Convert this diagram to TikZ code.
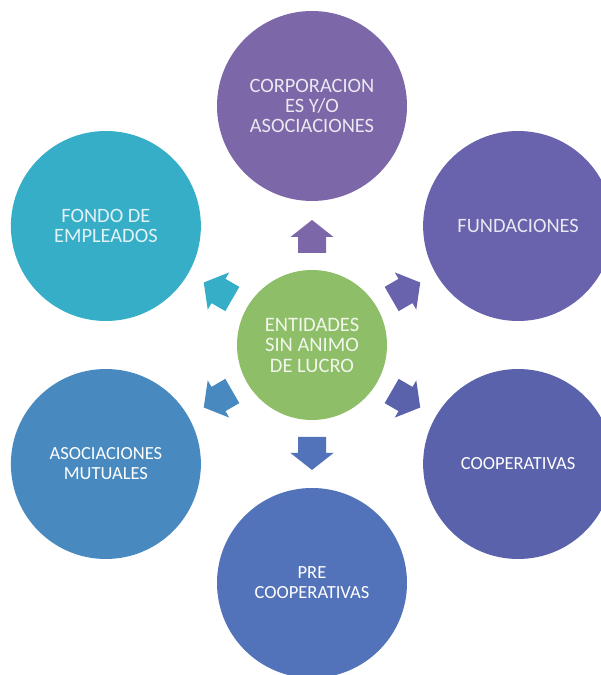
\documentclass[tikz,border=0pt]{standalone}
\usepackage{fontspec}
\setmainfont{Carlito}
\begin{document}
\begin{tikzpicture}[x=1pt, y=1pt,
    hubnode/.style={circle, fill=mygreen, minimum size=150pt, inner sep=0pt,
        text=white!88!mygreen, align=center, font=\fontsize{20.5}{20.5}\selectfont},
    leaf/.style={circle, minimum size=190pt, inner sep=0pt, align=center},
    thintxt/.style={font=\fontsize{20.4}{20.2}\selectfont},
    boldtxt/.style={font=\fontsize{18.5}{20}\selectfont, text=white}]
    \definecolor{mygreen}{RGB}{143,190,104}
    \definecolor{mycorp}{RGB}{124,103,168}
    \definecolor{myfund}{RGB}{104,99,172}
    \definecolor{mycoop}{RGB}{89,98,170}
    \definecolor{mypre}{RGB}{82,114,185}
    \definecolor{mymut}{RGB}{72,138,192}
    \definecolor{myfondo}{RGB}{55,174,200}

    \clip (0,0) rectangle (601,675);

    \node[hubnode] (hub) at (312,330) {ENTIDADES\\SIN ANIMO\\DE LUCRO};

    \node[leaf, thintxt, fill=mycorp, text=white!85!mycorp] (corp) at ([shift={(90:239)}]hub.center) {CORPORACION\\ES Y/O\\ASOCIACIONES};
    \node[leaf, thintxt, fill=myfund, text=white!85!myfund] (fund) at ([shift={(30:238)}]hub.center) {FUNDACIONES};
    \node[leaf, boldtxt, fill=mycoop] (coop) at ([shift={(-30:238)}]hub.center) {COOPERATIVAS};
    \node[leaf, boldtxt, fill=mypre] (pre) at ([shift={(-90:238)}]hub.center) {PRE\\COOPERATIVAS};
    \node[leaf, boldtxt, fill=mymut] (mut) at ([shift={(-150:238)}]hub.center) {ASOCIACIONES\\MUTUALES};
    \node[leaf, thintxt, fill=myfondo, text=white!85!myfondo] (fondo) at ([shift={(150:238)}]hub.center) {FONDO DE\\EMPLEADOS};

    % block arrows from the hub outwards
    \foreach \ang/\col in {90/mycorp, 30/myfund, -30/mycoop, -90/mypre, -150/mymut, 150/myfondo}
        \fill[\col, shift={(hub.center)}, rotate=\ang]
            (92,-14) -- (108,-14) -- (108,-21.5) -- (125,0) -- (108,21.5) -- (108,14) -- (92,14) -- cycle;
\end{tikzpicture}
\end{document}
